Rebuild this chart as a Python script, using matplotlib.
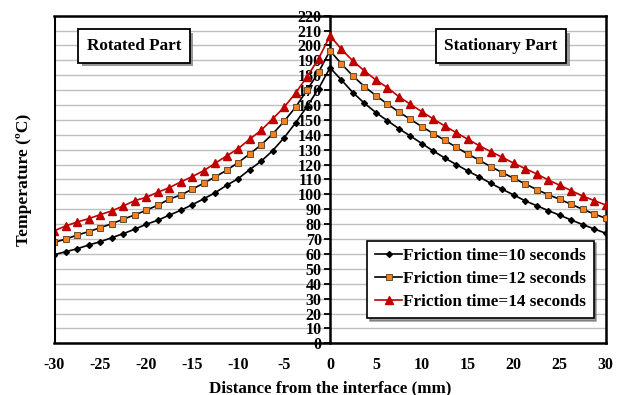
import numpy as np
import matplotlib
matplotlib.use('Agg')
import matplotlib.pyplot as plt
import matplotlib.patheffects as pe

plt.rcParams['font.family'] = ['Liberation Serif', 'DejaVu Serif']
plt.rcParams['font.weight'] = 'bold'
plt.rcParams['axes.unicode_minus'] = False

# distance from the interface (mm), 1.25 mm steps
distance = np.arange(-30, 30.01, 1.25)

# temperatures, left (-30..0) then right (1.25..30)
temp_10s = [59.5, 61.5, 63.5, 66.0, 68.2, 70.9, 73.6, 76.6, 79.9, 82.6, 86.0, 89.3,
            93.0, 97.0, 101.1, 106.1, 110.5, 116.6, 122.2, 129.3, 138.0, 148.0, 159.0, 171.0,
            185.0,
            176.8, 168.3, 161.2, 154.9, 149.5, 144.1, 139.2, 134.1, 129.1, 124.4, 120.0,
            115.7, 111.7, 107.4, 103.4, 99.6, 95.6, 92.4, 89.1, 86.0, 82.8, 79.7, 76.8, 73.9]
temp_12s = [67.8, 70.0, 72.7, 75.0, 77.6, 80.3, 83.3, 86.2, 89.3, 92.7, 96.7, 99.6,
            103.4, 107.5, 111.7, 116.2, 121.3, 127.1, 133.2, 140.5, 149.0, 158.5, 170.0, 182.0,
            196.5,
            187.6, 179.5, 172.4, 166.3, 160.7, 155.3, 150.4, 145.5, 140.8, 136.3, 131.6,
            127.1, 122.9, 118.6, 114.6, 110.8, 107.0, 103.2, 99.8, 96.7, 93.3, 90.0, 86.8, 84.0]
temp_14s = [75.6, 78.8, 81.5, 83.7, 86.4, 88.9, 92.2, 95.8, 98.0, 101.4, 104.5, 108.3,
            111.9, 115.9, 120.9, 125.8, 130.7, 137.0, 143.0, 150.6, 158.5, 168.0, 179.0, 191.0,
            206.6,
            197.4, 189.6, 182.9, 176.8, 171.7, 165.6, 160.5, 155.5, 150.6, 145.9, 141.4,
            137.0, 132.7, 128.7, 124.9, 120.9, 117.3, 113.7, 109.7, 106.1, 102.5, 98.9, 95.8, 92.9]

fig = plt.figure(figsize=(6.26, 3.95), dpi=100)
ax = fig.add_axes([0.0867, 0.1309, 0.8809, 0.8294])

ax.set_xlim(-30, 30)
ax.set_ylim(0, 220)
ax.set_yticks(np.arange(0, 221, 10))
ax.set_xticks(np.arange(-30, 31, 5))
ax.yaxis.grid(True, color='#bfbfbf', linewidth=1.0)
ax.set_axisbelow(True)

ax.plot(distance, temp_10s, color='black', lw=1.2, marker='D', ms=3,
        mfc='black', mec='black', label='Friction time=10 seconds', zorder=3)
ax.plot(distance, temp_12s, color='black', lw=1.2, marker='s', ms=4.7,
        mfc='#f58220', mec='#6b4a2a', mew=0.7, label='Friction time=12 seconds', zorder=3)
ax.plot(distance, temp_14s, color='#c00000', lw=1.2, marker='^', ms=5.5,
        mfc='#c00000', mec='#c00000', label='Friction time=14 seconds', zorder=3)

# y axis sits at the interface, keep a full frame around the plot
ax.spines['left'].set_position(('data', 0))
ax.spines['left'].set_linewidth(1.8)
ax.axvline(-30, color='black', lw=2.2, zorder=4)
for s in ['top', 'right', 'bottom']:
    ax.spines[s].set_linewidth(1.8)
ax.tick_params(axis='x', length=0, labelsize=11.5, pad=10)
ax.tick_params(axis='y', length=4, width=1.3, direction='out', labelsize=11.5, pad=2)
for lab in ax.get_xticklabels() + ax.get_yticklabels():
    lab.set_fontweight('bold')

ax.set_xlabel('Distance from the interface (mm)', fontsize=12.3, fontweight='bold', labelpad=5)
ax.set_ylabel('Temperature (ºC)', fontsize=12.6, fontweight='bold')
ax.yaxis.set_label_coords(-0.040, 0.5)

shadow = [pe.withSimplePatchShadow(offset=(2.5, -2.5), shadow_rgbFace='#7f7f7f', alpha=0.8)]
for txt, xpos in [('Rotated Part', 0.1445), ('Stationary Part', 0.810)]:
    t = ax.text(xpos, 0.9075, txt, transform=ax.transAxes, ha='center', va='center',
                fontsize=12.3, fontweight='bold', zorder=5,
                bbox=dict(boxstyle='square,pad=0.5', fc='white', ec='black', lw=1.3))
    t.get_bbox_patch().set_path_effects(shadow)

leg = ax.legend(loc='lower right', bbox_to_anchor=(0.978, 0.078), borderaxespad=0,
                fontsize=12.3, frameon=True, fancybox=False, shadow=True, edgecolor='black',
                handlelength=1.6, handletextpad=0.05, borderpad=0.45, labelspacing=0.4)
leg.get_frame().set_linewidth(1.2)
for t in leg.get_texts():
    t.set_fontweight('bold')

fig.savefig('out.png', dpi=100)
